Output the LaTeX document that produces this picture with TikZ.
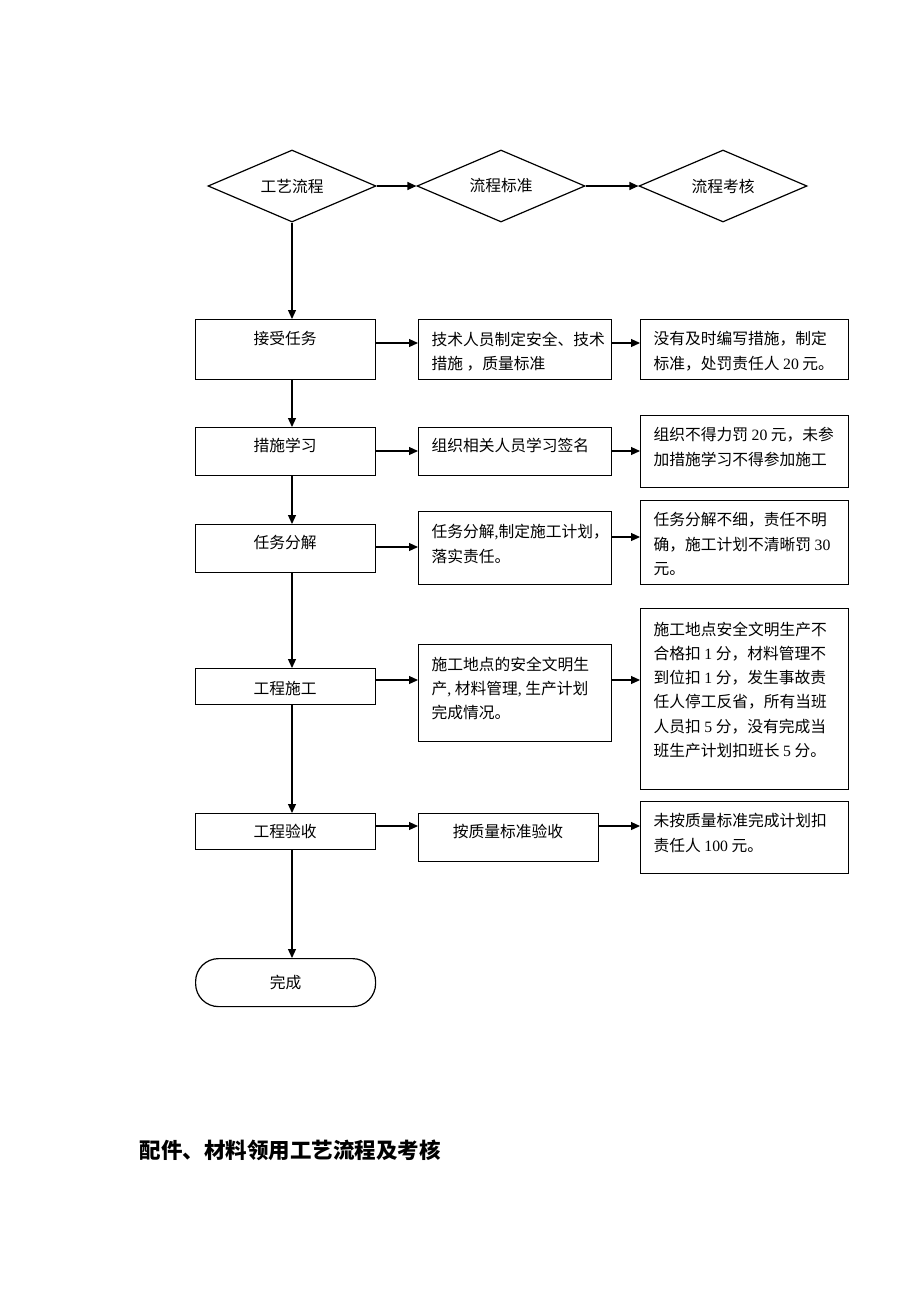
\documentclass[tikz,border=0pt]{standalone}
\usepackage{fontspec}
\setmainfont{Noto Sans CJK SC}
\newfontfamily\lat{Liberation Serif}
\usetikzlibrary{shapes.geometric,arrows.meta,calc}
\newcommand{\n}[1]{{\lat #1}}
\begin{document}
\begin{tikzpicture}[x=1pt,y=-1pt,
  line width=1.2pt,
  font=\fontsize{15.75}{24.3}\selectfont,
  box/.style={draw, rectangle, inner sep=0pt, anchor=north west},
  dia/.style={draw, diamond, aspect=2.33, minimum width=168pt, minimum height=72pt, inner sep=0pt},
  term/.style={draw, rectangle, rounded corners=23pt, inner sep=0pt, anchor=north west, minimum width=180pt, minimum height=48pt},
  ctext/.style={inner sep=0pt, anchor=center},
  ltext/.style={inner sep=0pt, anchor=north west, align=left},
  arr/.style={-{Triangle[length=9pt,width=8pt]}},
  title/.style={inner sep=0pt, anchor=west, font=\fontsize{21.5}{26}\selectfont\bfseries}
]
\useasboundingbox (0,0) rectangle (920,1302);

% diamonds
\node[dia] (d1) at (292,186) {工艺流程};
\node[dia] (d2) at (501,186) {流程标准};
\node[dia] (d3) at (723,186) {流程考核};

% left boxes
\node[box, minimum width=180pt, minimum height=60pt] (b1) at (195,319) {};
\node[box, minimum width=180pt, minimum height=48pt] (b2) at (195,427) {};
\node[box, minimum width=180pt, minimum height=48pt] (b3) at (195,524) {};
\node[box, minimum width=180pt, minimum height=36pt] (b4) at (195,668) {};
\node[box, minimum width=180pt, minimum height=36pt] (b5) at (195,813) {};
\node[term] (e) at (195,958) {};
\node[ctext] (te) at (e.center) {完成};

\node[ctext] (tb1) at (285,338) {接受任务};
\node[ctext] (tb2) at (285,445) {措施学习};
\node[ctext] (tb3) at (285,543) {任务分解};
\node[ctext] (tb4) at (285,688) {工程施工};
\node[ctext] (tb5) at (285,831) {工程验收};

% middle boxes
\node[box, minimum width=193pt, minimum height=60pt] (m1) at (418,319) {};
\node[box, minimum width=193pt, minimum height=48pt] (m2) at (418,427) {};
\node[box, minimum width=193pt, minimum height=73pt] (m3) at (418,511) {};
\node[box, minimum width=193pt, minimum height=97pt] (m4) at (418,644) {};
\node[box, minimum width=180pt, minimum height=48pt] (m5) at (418,813) {};

\node[ltext] (tm1) at (431,331) {技术人员制定安全、技术\\措施 ，质量标准};
\node[ltext] (tm2) at (431,438) {组织相关人员学习签名};
\node[ltext] (tm3) at (431,524) {任务分解\n{,}制定施工计划，\\落实责任。};
\node[ltext] (tm4) at (431,656) {施工地点的安全文明生\\产\n{,} 材料管理\n{,} 生产计划\\完成情况。};
\node[ctext] (tm5) at (508,831) {按质量标准验收};

% right boxes
\node[box, minimum width=208pt, minimum height=60pt] (r1) at (640,319) {};
\node[box, minimum width=208pt, minimum height=72pt] (r2) at (640,415) {};
\node[box, minimum width=208pt, minimum height=84pt] (r3) at (640,500) {};
\node[box, minimum width=208pt, minimum height=181pt] (r4) at (640,608) {};
\node[box, minimum width=208pt, minimum height=72pt] (r5) at (640,801) {};

\node[ltext] (tr1) at (653,331) {没有及时编写措施，制定\\标准，处罚责任人 \n{20} 元。};
\node[ltext] (tr2) at (653,427) {组织不得力罚 \n{20} 元，未参\\加措施学习不得参加施工};
\node[ltext] (tr3) at (653,512) {任务分解不细，责任不明\\确，施工计划不清晰罚 \n{30}\\元。};
\node[ltext] (tr4) at (653,621) {施工地点安全文明生产不\\合格扣 \n{1} 分，材料管理不\\到位扣 \n{1} 分，发生事故责\\任人停工反省，所有当班\\人员扣 \n{5} 分，没有完成当\\班生产计划扣班长 \n{5} 分。};
\node[ltext] (tr5) at (653,813) {未按质量标准完成计划扣\\责任人 \n{100} 元。};

% row levels for horizontal arrows
\coordinate (y1) at (0,343);
\coordinate (y2) at (0,451);
\coordinate (y3a) at (0,547);
\coordinate (y3b) at (0,537);
\coordinate (y4) at (0,680);
\coordinate (y5) at (0,826);

% top row arrows
\draw[arr] (d1.east) -- (d2.west);
\draw[arr] (d2.east) -- (d3.west);

% vertical arrows
\draw[arr] (d1.south) -- (d1.south |- b1.north);
\draw[arr] (d1.south |- b1.south) -- (d1.south |- b2.north);
\draw[arr] (d1.south |- b2.south) -- (d1.south |- b3.north);
\draw[arr] (d1.south |- b3.south) -- (d1.south |- b4.north);
\draw[arr] (d1.south |- b4.south) -- (d1.south |- b5.north);
\draw[arr] (d1.south |- b5.south) -- (d1.south |- e.north);

% horizontal arrows
\draw[arr] (b1.east |- y1) -- (m1.west |- y1);
\draw[arr] (m1.east |- y1) -- (r1.west |- y1);
\draw[arr] (b2.east |- y2) -- (m2.west |- y2);
\draw[arr] (m2.east |- y2) -- (r2.west |- y2);
\draw[arr] (b3.east |- y3a) -- (m3.west |- y3a);
\draw[arr] (m3.east |- y3b) -- (r3.west |- y3b);
\draw[arr] (b4.east |- y4) -- (m4.west |- y4);
\draw[arr] (m4.east |- y4) -- (r4.west |- y4);
\draw[arr] (b5.east |- y5) -- (m5.west |- y5);
\draw[arr] (m5.east |- y5) -- (r5.west |- y5);

% title
\node[title] (t) at (139,1150) {配件、材料领用工艺流程及考核};
\end{tikzpicture}
\end{document}
